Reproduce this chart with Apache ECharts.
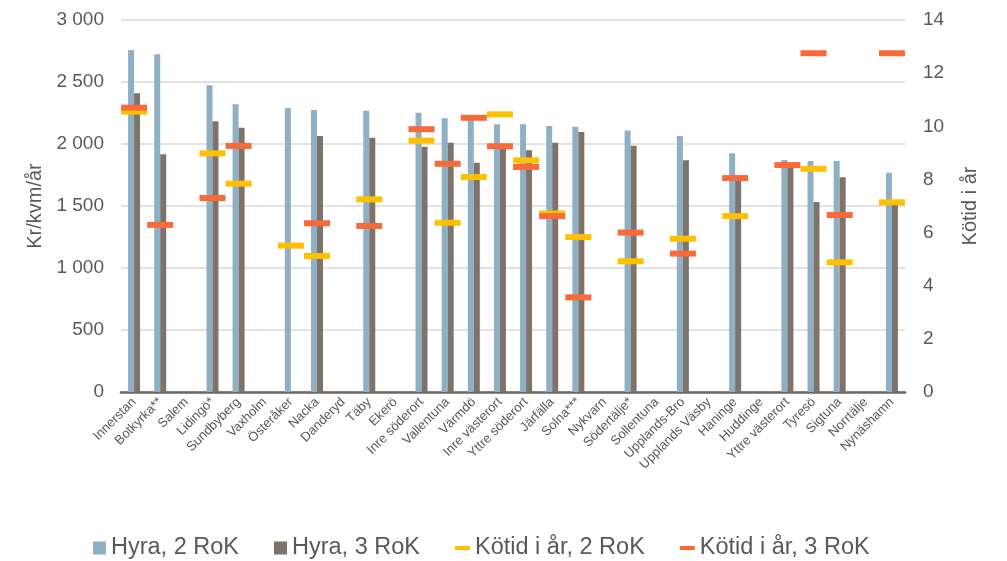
<!DOCTYPE html>
<html>
<head>
<meta charset="utf-8">
<script src="https://cdn.jsdelivr.net/npm/echarts@6/dist/echarts.min.js"></script>
<style>
  html, body { margin: 0; padding: 0; background: #fff; }
  #chart { width: 1007px; height: 561px; }
</style>
</head>
<body>
<div id="chart"></div>
<script>
// Hyra (kr/kvm/år) and kötid (år) per område
const categories = [
  'Innerstan', 'Botkyrka**', 'Salem', 'Lidingö*', 'Sundbyberg', 'Vaxholm', 'Österåker',
  'Nacka', 'Danderyd', 'Täby', 'Ekerö', 'Inre söderort', 'Vallentuna', 'Värmdö',
  'Inre västerort', 'Yttre söderort', 'Järfälla', 'Solna***', 'Nykvarn', 'Södertälje*',
  'Sollentuna', 'Upplands-Bro', 'Upplands Väsby', 'Haninge', 'Huddinge', 'Yttre västerort',
  'Tyresö', 'Sigtuna', 'Norrtälje', 'Nynäshamn'
];
const hyra2 = [2758, 2723, null, 2473, 2320, null, 2290, 2274, null, 2269, null, 2253, 2207, 2194,
  2159, 2159, 2145, 2140, null, 2108, null, 2065, null, 1925, null, 1871, 1863, 1863, null, 1769];
const hyra3 = [2409, 1917, null, 2183, 2132, null, null, 2065, null, 2051, null, 1978, 2011, 1849,
  1975, 1949, 2011, 2097, null, 1986, null, 1868, null, 1720, null, 1845, 1532, 1731, null, 1525];
const kotid2 = [10.55, null, null, 8.98, 7.84, null, 5.51, 5.12, null, 7.25, null, 9.46, 6.37, 8.09,
  10.45, 8.72, 6.72, 5.83, null, 4.92, null, 5.77, null, 6.62, null, null, 8.40, 4.88, null, 7.14];
const kotid3 = [10.70, 6.29, null, 7.30, 9.26, null, null, 6.35, null, 6.25, null, 9.89, 8.59, 10.32,
  9.25, 8.47, 6.62, 3.56, null, 6.0, null, 5.21, null, 8.05, null, 8.54, 12.75, 6.66, null, 12.75];

const FONT = "'Liberation Sans', Arial, sans-serif";
const TXT = '#595959';

const chart = echarts.init(document.getElementById('chart'));

const fmtThousands = v => String(v).replace(/\B(?=(\d{3})+(?!\d))/g, ' ');

chart.setOption({
  animation: false,
  textStyle: { fontFamily: FONT },
  grid: { left: 121, right: 102, top: 20, bottom: 169 },
  legend: [
    {
      data: ['Hyra, 2 RoK', 'Hyra, 3 RoK'],
      left: 88, top: 531,
      icon: 'rect', itemWidth: 13, itemHeight: 13, itemGap: 35,
      textStyle: { color: TXT, fontSize: 23.5, fontFamily: FONT },
    },
    {
      data: ['Kötid i år, 2 RoK', 'Kötid i år, 3 RoK'],
      left: 450, top: 531,
      icon: 'rect', itemWidth: 15, itemHeight: 4, itemGap: 35,
      textStyle: { color: TXT, fontSize: 23.5, fontFamily: FONT },
    },
  ],
  xAxis: {
    type: 'category',
    data: categories,
    axisTick: { show: false },
    axisLine: { lineStyle: { color: '#6E6660', width: 2.5 } },
    axisLabel: { color: TXT, fontSize: 13, rotate: 45, interval: 0, margin: 8, fontFamily: FONT },
  },
  yAxis: [
    {
      type: 'value', min: 0, max: 3000, interval: 500,
      name: 'Kr/kvm/år', nameLocation: 'middle', nameGap: 76,
      nameTextStyle: { color: TXT, fontSize: 20, fontFamily: FONT },
      axisLabel: { color: TXT, fontSize: 19, margin: 17, formatter: fmtThousands, fontFamily: FONT },
      axisLine: { show: false }, axisTick: { show: false },
      splitLine: { lineStyle: { color: '#D9D9D9', width: 1.5 } },
    },
    {
      type: 'value', min: 0, max: 14, interval: 2,
      name: 'Kötid i år', nameLocation: 'middle', nameGap: 55,
      nameTextStyle: { color: TXT, fontSize: 20, fontFamily: FONT },
      axisLabel: { color: TXT, fontSize: 19, margin: 18, fontFamily: FONT },
      axisLine: { show: false }, axisTick: { show: false },
      splitLine: { show: false },
    },
  ],
  series: [
    {
      name: 'Hyra, 2 RoK', type: 'bar', data: hyra2,
      barWidth: 6, barGap: '0%',
      itemStyle: { color: '#8FB0C4' },
    },
    {
      name: 'Hyra, 3 RoK', type: 'bar', data: hyra3,
      barWidth: 6, barGap: '0%',
      itemStyle: { color: '#7D736A' },
    },
    {
      name: 'Kötid i år, 2 RoK', type: 'scatter', yAxisIndex: 1, data: kotid2,
      symbol: 'rect', symbolSize: [26, 6],
      itemStyle: { color: '#FFC000', opacity: 1 }, z: 3,
    },
    {
      name: 'Kötid i år, 3 RoK', type: 'scatter', yAxisIndex: 1, data: kotid3,
      symbol: 'rect', symbolSize: [26, 6],
      itemStyle: { color: '#F96A3A', opacity: 1 }, z: 4,
    },
  ],
});
</script>
</body>
</html>
